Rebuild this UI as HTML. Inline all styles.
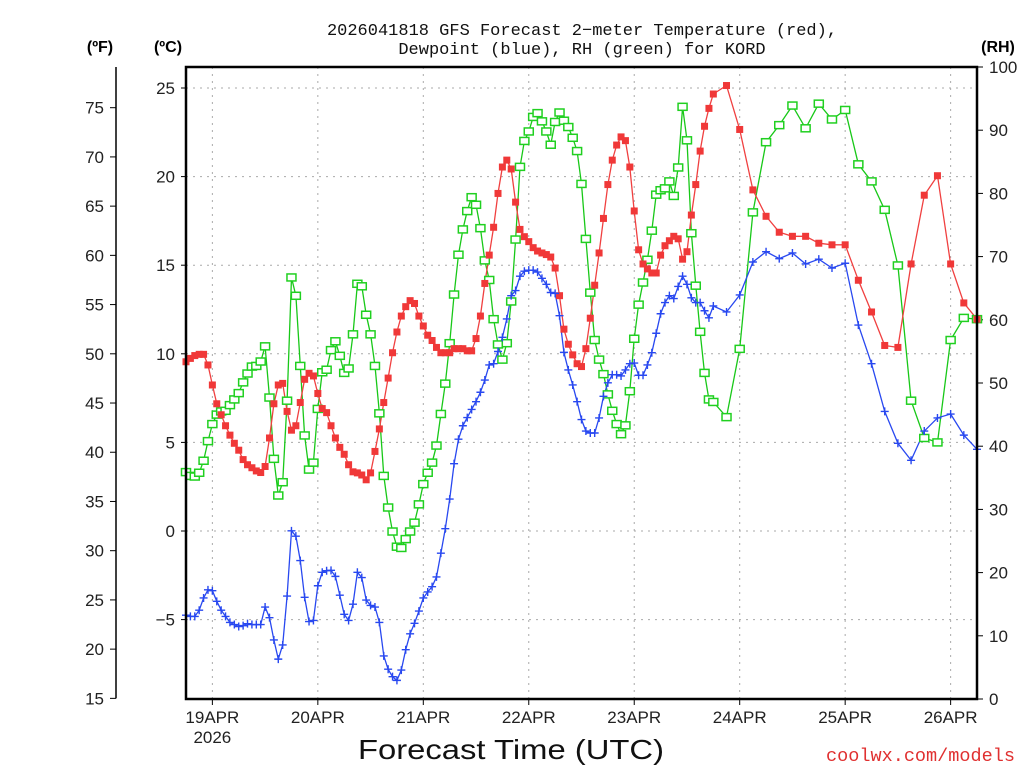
<!DOCTYPE html>
<html><head><meta charset="utf-8"><style>
html,body{margin:0;padding:0;background:#fff;}
svg{display:block;font-family:"Liberation Sans",sans-serif;}
</style></head><body>
<svg id="chart" width="1024" height="768" viewBox="0 0 1024 768" xmlns="http://www.w3.org/2000/svg">
<rect width="1024" height="768" fill="#fff"/>
<g font-size="17" fill="#111" text-anchor="middle" font-family="Liberation Mono, monospace">
<text x="582" y="35">2026041818 GFS Forecast 2−meter Temperature (red),</text>
<text x="582" y="54">Dewpoint (blue), RH (green) for KORD</text>
</g>
<text x="100" y="52" font-size="16" font-weight="bold" text-anchor="middle">(ºF)</text>
<text x="168" y="52" font-size="16" font-weight="bold" text-anchor="middle">(ºC)</text>
<text x="998" y="52" font-size="16" font-weight="bold" text-anchor="middle">(RH)</text>
<g id="grid"></g>
<g id="axes"></g>
<g id="series"></g>
<rect x="186" y="67" width="791" height="632" fill="none" stroke="#000" stroke-width="2.5"/>
<text x="511" y="759" font-size="28" text-anchor="middle" fill="#111" textLength="306" lengthAdjust="spacingAndGlyphs">Forecast Time (UTC)</text>
<text x="1015" y="761" font-size="18" text-anchor="end" fill="#e03030" font-family="Liberation Mono, monospace" textLength="189" lengthAdjust="spacingAndGlyphs">coolwx.com/models</text>
</svg>
<script>
const hours = [0,1,2,3,4,5,6,7,8,9,10,11,12,13,14,15,16,17,18,19,20,21,22,23,24,25,26,27,28,29,30,31,32,33,34,35,36,37,38,39,40,41,42,43,44,45,46,47,48,49,50,51,52,53,54,55,56,57,58,59,60,61,62,63,64,65,66,67,68,69,70,71,72,73,74,75,76,77,78,79,80,81,82,83,84,85,86,87,88,89,90,91,92,93,94,95,96,97,98,99,100,101,102,103,104,105,106,107,108,109,110,111,112,113,114,115,116,117,118,119,120,123,126,129,132,135,138,141,144,147,150,153,156,159,162,165,168,171,174,177,180];
const tempC = [9.55,9.74,9.9,9.97,9.97,9.37,8.24,7.18,6.56,5.94,5.41,4.95,4.56,4.03,3.74,3.57,3.39,3.3,3.64,5.25,7.18,8.24,8.33,6.75,5.69,5.94,7.25,8.56,8.9,8.75,7.76,6.91,6.68,5.94,5.25,4.72,4.33,3.74,3.34,3.28,3.16,2.89,3.28,4.49,5.76,
7.25,8.63,10.06,11.23,12.13,12.66,13.0,12.84,12.13,11.57,11.05,10.75,10.36,10.06,10.06,10.06,10.29,10.29,10.29,10.17,10.17,10.86,12.13,13.97,15.57,17.14,19.05,20.54,20.93,20.43,18.56,17.02,16.61,16.33,15.99,15.8,15.69,15.6,15.46,14.84,13.28,11.39,10.54,
9.94,9.44,9.28,10.29,12.01,13.87,15.69,17.64,19.55,20.93,21.78,22.24,22.03,20.54,18.06,15.87,15.07,14.79,14.56,14.56,15.57,16.1,16.38,16.63,16.49,15.34,15.76,17.83,19.55,21.44,22.84,23.85,24.66,
25.14,22.66,19.25,17.76,16.86,16.63,16.63,16.24,16.15,16.15,14.15,12.36,10.47,10.36,15.07,18.95,20.05,15.07,12.87,11.95];
const dewC = [-4.75,-4.82,-4.82,-4.47,-3.78,-3.32,-3.37,-3.97,-4.47,-4.82,-5.16,-5.28,-5.39,-5.34,-5.23,-5.28,-5.28,-5.28,-4.29,-4.89,-6.15,-7.23,-6.43,-3.67,0.01,-0.29,-1.67,-3.74,-5.11,-5.05,-3.09,-2.33,-2.24,-2.22,-2.56,-3.62,-4.7,-5.05,-4.13,-2.33,-2.63,-3.9,-4.2,-4.29,-5.16,
-7.05,-7.8,-8.22,-8.43,-7.85,-6.7,-5.8,-5.21,-4.52,-3.78,-3.44,-3.14,-2.59,-1.25,0.13,1.8,3.8,5.18,5.94,6.4,6.86,7.3,7.83,8.52,9.37,9.44,10.13,10.93,11.97,13.28,13.57,14.38,14.66,14.72,14.72,14.61,14.26,13.92,13.46,13.41,12.15,10.08,9.09,
8.24,7.3,6.29,5.64,5.53,5.53,6.38,7.6,8.36,8.82,8.82,8.75,9.09,9.44,9.48,8.79,8.79,9.37,10.06,11.16,12.26,12.89,13.28,13.12,13.8,14.38,13.92,13.16,12.89,12.89,12.43,12.03,12.7,
12.36,13.32,15.18,15.76,15.37,15.69,15.07,15.34,14.84,15.11,11.62,9.44,6.75,4.95,3.99,5.64,6.38,6.6,5.41,4.61];
const rh = [35.9,35.3,35.2,35.8,37.7,40.8,43.5,45.0,45.5,45.6,46.5,47.4,48.4,50.1,51.5,52.6,52.7,53.4,55.8,47.7,38.0,32.2,34.3,47.2,66.7,63.8,52.7,41.7,36.3,37.4,45.9,51.7,52.1,55.2,56.6,54.3,51.6,52.3,57.7,65.7,65.3,60.8,57.7,52.7,45.2,
35.3,30.3,26.5,24.1,23.9,25.3,26.5,27.9,30.8,34.0,35.8,37.4,40.1,45.1,49.9,56.3,64.0,70.3,74.3,77.2,79.4,78.2,74.5,69.4,66.3,60.1,56.1,53.7,56.3,62.9,72.7,84.2,88.3,89.8,92.1,92.7,91.4,89.8,87.7,91.3,92.8,91.5,90.5,
88.8,86.7,81.5,72.8,64.3,56.8,53.7,51.4,48.2,45.6,43.5,41.9,43.3,48.7,57.0,62.4,65.9,69.5,74.1,79.8,80.5,80.8,81.9,79.6,84.1,93.7,88.4,73.7,65.4,58.1,51.6,47.4,47.0,
44.6,55.4,77.0,88.1,90.8,93.9,90.3,94.2,91.7,93.2,84.6,81.9,77.4,68.6,47.2,41.3,40.6,56.8,60.3,60.1];
const celsiusTicks = [25,20,15,10,5,0,-5];
const fahrenheitTicks = [15,20,25,30,35,40,45,50,55,60,65,70,75];
const rhTicks = [0,10,20,30,40,50,60,70,80,90,100];
const dayTickHours = [6,30,54,78,102,126,150,174];
const dayLabels = ["19APR","20APR","21APR","22APR","23APR","24APR","25APR","26APR"];

const NS = "http://www.w3.org/2000/svg";
const X0 = 186, X1 = 977, YT = 67, YB = 699;
function xH(h){ return X0 + h * (X1 - X0) / 180; }
function yC(c){ return 531 - c * 17.72; }
function yF(f){ return yC((f - 32) * 5 / 9); }
function yR(r){ return YB - r * (YB - YT) / 100; }
function mk(tag, attrs, parent){ const e = document.createElementNS(NS, tag); for (const k in attrs) e.setAttribute(k, attrs[k]); parent.appendChild(e); return e; }
const grid = document.getElementById('grid'), axes = document.getElementById('axes'), series = document.getElementById('series');

celsiusTicks.forEach(c => {
  const y = yC(c);
  const g = mk('line', {x1:X0, x2:X1, y1:y, y2:y, stroke:'#aaa', 'stroke-dasharray':'2,5'}, grid);
  
  
  mk('line', {x1:X0-5, x2:X0, y1:y, y2:y, stroke:'#000'}, axes);
  const t = mk('text', {x:175, y:y+6, 'font-size':17, 'text-anchor':'end', fill:'#222'}, axes);
  t.textContent = c < 0 ? '−' + Math.abs(c) : String(c);
  
  
});
dayTickHours.forEach((h, i) => {
  const x = xH(h);
  const g = mk('line', {x1:x, x2:x, y1:YT, y2:YB, stroke:'#aaa', 'stroke-dasharray':'2,5'}, grid);
  
  
  mk('line', {x1:x, x2:x, y1:YB, y2:YB+6, stroke:'#000'}, axes);
  const t = mk('text', {x:x, y:723, 'font-size':17, 'text-anchor':'middle', fill:'#222'}, axes);
  t.textContent = dayLabels[i];
  
  
});
const yr = mk('text', {x:xH(6), y:743, 'font-size':17, 'text-anchor':'middle', fill:'#222'}, axes);
yr.textContent = '2026';



const fl = mk('line', {x1:116, x2:116, y1:YT, y2:yF(15), stroke:'#000', 'stroke-width':1.5}, axes);


fahrenheitTicks.forEach(f => {
  const y = yF(f);
  mk('line', {x1:110, x2:116, y1:y, y2:y, stroke:'#000'}, axes);
  const t = mk('text', {x:104, y:y+6, 'font-size':17, 'text-anchor':'end', fill:'#222'}, axes);
  t.textContent = String(f);
  
  
});
rhTicks.forEach(r => {
  const y = yR(r);
  mk('line', {x1:X1, x2:X1+6, y1:y, y2:y, stroke:'#000'}, axes);
  const t = mk('text', {x:989, y:y+6, 'font-size':17, 'text-anchor':'start', fill:'#222'}, axes);
  t.textContent = String(r);
  
  
});

function drawLine(vals, yf, color, name){
  const pts = vals.map((v, i) => xH(hours[i]).toFixed(1) + ',' + yf(v).toFixed(1)).join(' ');
  const p = mk('polyline', {points:pts, fill:'none', stroke:color, 'stroke-width':1.3}, series);
  
  
}
drawLine(rh, yR, '#18c818', 'rh-line');
drawLine(tempC, yC, '#f04040', 'temperature-line');
drawLine(dewC, yC, '#2848f0', 'dewpoint-line');

rh.forEach((v, i) => {
  const m = mk('rect', {x:xH(hours[i])-4.5, y:yR(v)-3.5, width:9, height:7, fill:'#fff', stroke:'#20d020', 'stroke-width':1.5}, series);
  
  
});
tempC.forEach((v, i) => {
  const m = mk('rect', {x:xH(hours[i])-3.5, y:yC(v)-3.5, width:7, height:7, fill:'#f03838'}, series);
  
  
});
dewC.forEach((v, i) => {
  const x = xH(hours[i]), y = yC(v);
  const m = mk('path', {d:`M${x-4},${y}H${x+4}M${x},${y-4}V${y+4}`, stroke:'#2848f0', 'stroke-width':1.4, fill:'none'}, series);
  
  
});
</script>
</body></html>
